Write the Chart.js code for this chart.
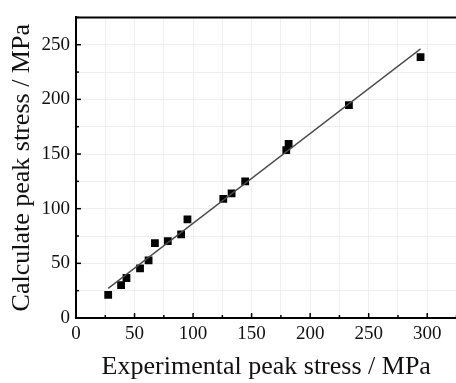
<!DOCTYPE html>
<html>
<head>
<meta charset="utf-8">
<script src="https://cdn.jsdelivr.net/npm/chart.js@4"></script>
<style>
  html, body { margin: 0; padding: 0; background: #fff; overflow: hidden; }
  #wrap { width: 462px; height: 383px; }
</style>
</head>
<body>
<div id="wrap"><canvas id="peakChart" width="462" height="383"></canvas></div>
<script>
// Measured points (experimental vs calculated peak stress, MPa)
const expStress = [27.5, 38.5, 43.1, 54.7, 62.0, 67.4, 78.4, 89.8, 95.2, 125.8, 132.9, 144.5, 179.6, 181.6, 233.1, 294.3];
const calcStress = [21.2, 30.1, 36.6, 45.5, 52.7, 68.5, 70.3, 76.5, 90.2, 108.9, 114.0, 125.0, 153.6, 159.3, 194.7, 238.7];
// Fit line endpoints
const fitX = [27.5, 294.3];
const fitY = [27.1, 246.2];

const serif = "'Liberation Serif', 'Times New Roman', serif";

// Inward tick marks and the top frame line
const framePlugin = {
  id: 'frame',
  afterDraw(chart) {
    const ctx = chart.ctx;
    const area = chart.chartArea;
    const xs = chart.scales.x, ys = chart.scales.y;
    ctx.save();
    ctx.strokeStyle = '#000';
    ctx.lineWidth = 1.5;
    xs.ticks.forEach(t => {
      const px = xs.getPixelForValue(t.value);
      const len = t.value % 50 === 0 ? 5 : 3;
      ctx.beginPath();
      ctx.moveTo(px, area.bottom);
      ctx.lineTo(px, area.bottom - len);
      ctx.stroke();
    });
    ys.ticks.forEach(t => {
      const py = ys.getPixelForValue(t.value);
      const len = t.value % 50 === 0 ? 5 : 3;
      ctx.beginPath();
      ctx.moveTo(area.left, py);
      ctx.lineTo(area.left + len, py);
      ctx.stroke();
    });
    ctx.lineWidth = 2;
    ctx.beginPath();
    ctx.moveTo(area.left - 1, area.top);
    ctx.lineTo(area.right + 4, area.top);
    ctx.stroke();
    ctx.restore();
  }
};

const ctx = document.getElementById('peakChart').getContext('2d');
new Chart(ctx, {
  type: 'scatter',
  data: {
    datasets: [
      {
        type: 'line',
        data: fitX.map((x, i) => ({ x: x, y: fitY[i] })),
        borderColor: '#4a4a4a',
        borderWidth: 1.3,
        pointRadius: 0,
        fill: false
      },
      {
        data: expStress.map((x, i) => ({ x: x, y: calcStress[i] })),
        pointStyle: 'rect',
        pointRadius: 5.5,
        backgroundColor: '#000',
        borderColor: '#000',
        borderWidth: 0
      }
    ]
  },
  plugins: [framePlugin],
  options: {
    responsive: false,
    animation: false,
    layout: { padding: { top: 9, right: 0, left: 0, bottom: 0 } },
    plugins: { legend: { display: false }, tooltip: { enabled: false } },
    scales: {
      x: {
        type: 'linear',
        min: 0,
        max: 325,
        afterFit(scale) { scale.height = 65; },
        border: { display: true, color: '#000', width: 2 },
        grid: { color: '#efefef', lineWidth: 1, drawTicks: false },
        ticks: {
          stepSize: 25,
          padding: 5,
          color: '#111',
          maxRotation: 0,
          autoSkip: false,
          font: { family: serif, size: 19 },
          callback: v => (v % 50 === 0 ? v : '')
        },
        title: {
          display: true,
          text: 'Experimental peak stress / MPa',
          color: '#111',
          font: { family: serif, size: 26 },
          padding: { top: 0, bottom: 0 }
        }
      },
      y: {
        type: 'linear',
        min: 0,
        max: 275,
        afterFit(scale) { scale.width = 76; },
        border: { display: true, color: '#000', width: 2 },
        grid: { color: '#efefef', lineWidth: 1, drawTicks: false },
        ticks: {
          stepSize: 25,
          padding: 6,
          color: '#111',
          autoSkip: false,
          font: { family: serif, size: 19 },
          callback: v => (v % 50 === 0 ? v : '')
        },
        title: {
          display: true,
          text: 'Calculate peak stress / MPa',
          color: '#111',
          font: { family: serif, size: 26 },
          padding: { top: 7, bottom: 0 }
        }
      }
    }
  }
});
</script>
</body>
</html>
